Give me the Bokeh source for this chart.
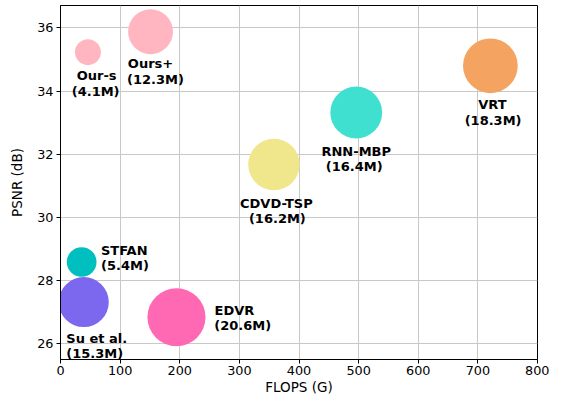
from bokeh.plotting import figure
from bokeh.models import ColumnDataSource, FixedTicker, Range1d
from bokeh.core.properties import value
from bokeh.embed import file_html
from bokeh.resources import INLINE
import math

# ---- data ----
models = ["Our-s", "Ours+", "VRT", "RNN-MBP", "CDVD-TSP", "STFAN", "Su et al.", "EDVR"]
flops = [46, 151, 721, 496, 358, 35.5, 39, 194.5]
psnr = [35.23, 35.88, 34.80, 33.32, 31.67, 28.58, 27.31, 26.83]
params = [4.1, 12.3, 18.3, 16.4, 16.2, 5.4, 15.3, 20.6]
colors = ["#FFB6C1", "#FFB6C1", "#F4A460", "#40E0D0", "#F0E68C", "#00BFBF", "#7B68EE", "#FF69B4"]
x_ticks = [0, 100, 200, 300, 400, 500, 600, 700, 800]
y_ticks = [26, 28, 30, 32, 34, 36]

# label offsets (screen px) for name line and parameter line
name_dx = [8.7, 0, 2, 0, 2.4, 42.6, 13, 58]
name_dy = [23, 32, 38.7, 38.7, 39.3, -11.7, 36, -6.3]
par_dx = [7.7, 5, 2.7, -2, 3.4, 43.3, 11, 66.3]
par_dy = [39, 48, 54.3, 54.3, 54.3, 3.3, 51, 8.7]

sizes = [12.8 * math.sqrt(v) for v in params]
par_text = ["(%.1fM)" % v for v in params]

src = ColumnDataSource(dict(x=flops, y=psnr, size=sizes, color=colors, name=models,
                            par=par_text, ndx=name_dx, ndy=name_dy, pdx=par_dx, pdy=par_dy))

p = figure(width=549, height=397, output_backend="svg", toolbar_location=None,
           x_range=Range1d(0, 800), y_range=Range1d(25.49, 36.71),
           min_border_left=60, min_border_right=12, min_border_top=5, min_border_bottom=38)

p.background_fill_color = "white"
p.border_fill_color = "white"
p.outline_line_color = "black"
p.outline_line_width = 1

p.scatter("x", "y", size="size", fill_color="color", line_color=None, source=src)

font = value("DejaVu Sans")
p.text("x", "y", text="name", x_offset="ndx", y_offset="ndy", source=src,
       text_align="center", text_baseline="middle", text_font=font,
       text_font_style="bold", text_font_size=value("13px"), text_color="black")
p.text("x", "y", text="par", x_offset="pdx", y_offset="pdy", source=src,
       text_align="center", text_baseline="middle", text_font=font,
       text_font_style="bold", text_font_size=value("13px"), text_color="black")

p.xaxis.ticker = FixedTicker(ticks=x_ticks)
p.yaxis.ticker = FixedTicker(ticks=y_ticks)
p.xaxis.axis_label = "FLOPS (G)"
p.yaxis.axis_label = "PSNR (dB)"

for ax in (p.xaxis[0], p.yaxis[0]):
    ax.axis_line_color = "black"
    ax.major_tick_line_color = "black"
    ax.major_tick_out = 4
    ax.major_tick_in = 0
    ax.minor_tick_line_color = None
    ax.major_label_text_font = "DejaVu Sans"
    ax.major_label_text_font_size = "12.8px"
    ax.major_label_text_color = "black"
    ax.axis_label_text_font = "DejaVu Sans"
    ax.axis_label_text_font_size = "13.5px"
    ax.axis_label_text_font_style = "normal"
    ax.axis_label_text_color = "black"

p.xaxis.major_label_standoff = 2
p.yaxis.major_label_standoff = 3
p.xaxis.axis_label_standoff = 1
p.yaxis.axis_label_standoff = 9

p.xgrid.grid_line_color = "#c8c8c8"
p.ygrid.grid_line_color = "#c8c8c8"
p.xgrid.grid_line_width = 1
p.ygrid.grid_line_width = 1

open("out.html", "w").write(file_html(p, INLINE))
